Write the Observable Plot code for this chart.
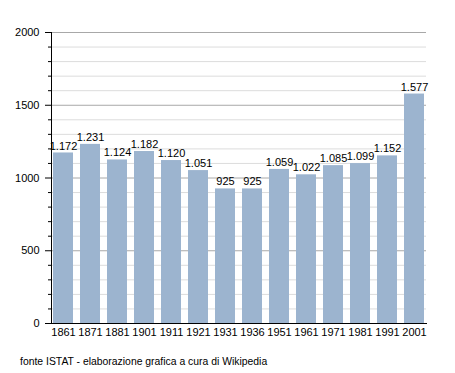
<!DOCTYPE html>
<html><head><meta charset="utf-8">
<script src="https://cdn.jsdelivr.net/npm/d3@7"></script>
<script src="https://cdn.jsdelivr.net/npm/@observablehq/plot@0.6"></script>
<style>
body{margin:0;background:#fff;font-family:"Liberation Sans",Arial,sans-serif;}
#cap{position:absolute;left:20px;top:356px;font-size:10.4px;color:#000;}
</style></head><body>
<div id="chart"></div>
<div id="cap">fonte ISTAT - elaborazione grafica a cura di Wikipedia</div>
<script>
const years = ["1861","1871","1881","1901","1911","1921","1931","1936","1951","1961","1971","1981","1991","2001"];
const population = [1172,1231,1124,1182,1120,1051,925,925,1059,1022,1085,1099,1152,1577];
const majorTicks = [0,500,1000,1500,2000];
const minorTicks = d3.range(0,2001,100).filter(v => v % 500 !== 0);

const data = years.map((y,i)=>({year:y, value:population[i]}));
const fmt = v => d3.format(",")(v).replace(/,/g,".");

const chart = Plot.plot({
  width:455, height:345,
  marginTop:32, marginBottom:22, marginLeft:51, marginRight:29,
  style:{fontFamily:"'Liberation Sans', Arial, sans-serif", fontSize:"11px", color:"#000", background:"#fff"},
  x:{domain:years, paddingInner:0.26, paddingOuter:0.02, label:null},
  y:{domain:[0,2000], label:null},
  marks:[
    Plot.ruleY(minorTicks,{stroke:"#dcdcdc", strokeWidth:1}),
    Plot.ruleY(majorTicks,{stroke:"#a8a8a8", strokeWidth:1}),
    Plot.barY(data,{x:"year", y:"value", fill:"#9cb4cf"}),
    Plot.text(data,{x:"year", y:"value", text:d=>fmt(d.value), dy:-7, fontSize:11, fill:"#000"}),
    Plot.axisY({ticks:minorTicks, tickSize:3, text:null, stroke:"#000"}),
    Plot.axisY({ticks:majorTicks, tickSize:6, tickPadding:6, tickFormat:d3.format("d"), fontSize:11, stroke:"#000"}),
    Plot.axisX({tickSize:0, tickPadding:5, fontSize:11}),
    Plot.frame({anchor:"left", stroke:"#000"}),
    Plot.frame({anchor:"bottom", stroke:"#000"})
  ]
});
document.getElementById("chart").append(chart);
</script>
</body></html>
